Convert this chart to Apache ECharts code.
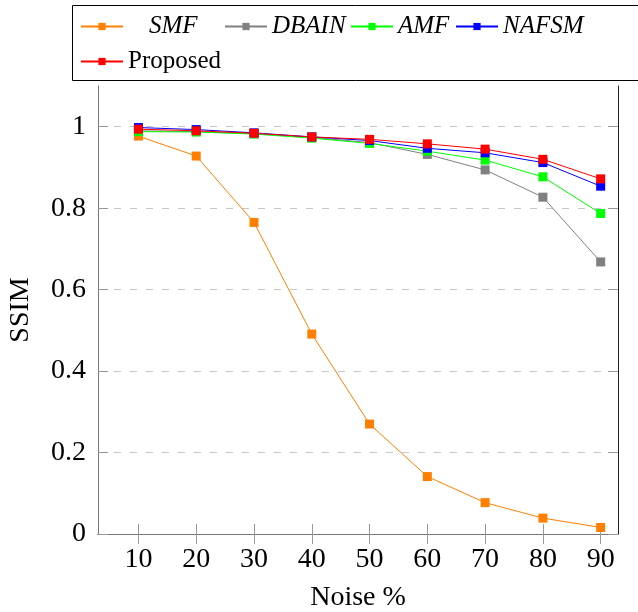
<!DOCTYPE html>
<html>
<head>
<meta charset="utf-8">
<script src="https://cdn.jsdelivr.net/npm/echarts@6/dist/echarts.min.js"></script>
<style>
  html, body { margin: 0; padding: 0; background: #fff; }
  #chart { width: 638px; height: 612px; }
</style>
</head>
<body>
<div id="chart"></div>
<script>
    // noise levels (%) and SSIM for each filter
    var noise = [10, 20, 30, 40, 50, 60, 70, 80, 90];
    var yTicks = [0, 0.2, 0.4, 0.6, 0.8, 1];

    var smf = [0.977, 0.928, 0.765, 0.491, 0.270, 0.141, 0.077, 0.039, 0.016];
    var dbain = [0.990, 0.988, 0.983, 0.974, 0.961, 0.932, 0.894, 0.827, 0.668];
    var amf = [0.988, 0.987, 0.982, 0.972, 0.959, 0.940, 0.918, 0.877, 0.787];
    var nafsm = [0.998, 0.993, 0.985, 0.975, 0.966, 0.947, 0.936, 0.912, 0.854];
    var proposed = [0.994, 0.990, 0.984, 0.975, 0.969, 0.958, 0.945, 0.920, 0.872];

    var font = 'Liberation Serif';

    function pairs(vals) {
        return vals.map(function (v, i) { return [noise[i], v]; });
    }

    function makeSeries(name, vals, color) {
        return {
            name: name,
            type: 'line',
            data: pairs(vals),
            symbol: 'rect',
            symbolSize: 9,
            lineStyle: { color: color, width: 1 },
            itemStyle: { color: color },
            emphasis: { disabled: true },
            animation: false
        };
    }

    function legendItem(name, left, top, italic, pad) {
        return {
            data: [name],
            left: left,
            top: top,
            padding: 0,
            itemWidth: 42,
            itemHeight: 9,
            selectedMode: false,
            textStyle: {
                fontFamily: font,
                fontSize: 25,
                fontStyle: italic ? 'italic' : 'normal',
                color: '#000',
                padding: [0, 0, 0, pad || 0]
            }
        };
    }

    var chart = echarts.init(document.getElementById('chart'));

    var option = {
        animation: false,
        backgroundColor: '#fff',
        grid: {
            left: 98,
            right: 20,
            top: 86,
            bottom: 78,
            outerBoundsMode: 'none'
        },
        graphic: [
            {
                type: 'rect',
                shape: { x: 72.5, y: 5.5, width: 600, height: 75 },
                style: { fill: 'none', stroke: '#000', lineWidth: 1 }
            }
        ],
        legend: [
            legendItem('SMF', 80, 14, true, 21),
            legendItem('DBAIN', 224, 14, true),
            legendItem('AMF', 350, 14, true),
            legendItem('NAFSM', 455, 14, true),
            legendItem('Proposed', 80, 49, false)
        ],
        xAxis: [
            {
                type: 'value',
                min: 3,
                max: 93,
                name: 'Noise %',
                nameLocation: 'middle',
                nameGap: 50,
                nameTextStyle: { fontFamily: font, fontSize: 28, color: '#000' },
                axisLine: { show: true, lineStyle: { color: '#333' } },
                axisTick: { inside: true, length: 10, customValues: noise, lineStyle: { color: '#999' } },
                axisLabel: { customValues: noise, fontFamily: font, fontSize: 28, color: '#000', margin: 12 },
                splitLine: { show: false }
            },
            {
                type: 'value',
                position: 'top',
                min: 3,
                max: 93,
                axisLine: { show: true, lineStyle: { color: '#777' } },
                axisTick: { inside: true, length: 10, customValues: noise, lineStyle: { color: '#999' } },
                axisLabel: { show: false },
                splitLine: { show: false }
            }
        ],
        yAxis: [
            {
                type: 'value',
                min: 0,
                max: 1.1,
                name: 'SSIM',
                nameLocation: 'middle',
                nameGap: 63,
                nameTextStyle: { fontFamily: font, fontSize: 28, color: '#000' },
                axisLine: { show: true, lineStyle: { color: '#777' } },
                axisTick: { inside: true, length: 10, customValues: yTicks, lineStyle: { color: '#999' } },
                axisLabel: { customValues: yTicks, fontFamily: font, fontSize: 28, color: '#000', margin: 12 },
                splitLine: {
                    show: true,
                    lineStyle: { color: '#c8c8c8', type: [7, 9], width: 1 }
                }
            },
            {
                type: 'value',
                position: 'right',
                min: 0,
                max: 1.1,
                axisLine: { show: true, lineStyle: { color: '#222' } },
                axisTick: { inside: true, length: 10, customValues: yTicks, lineStyle: { color: '#999' } },
                axisLabel: { show: false },
                splitLine: { show: false }
            }
        ],
        series: [
            makeSeries('SMF', smf, '#ff8000'),
            makeSeries('DBAIN', dbain, '#808080'),
            makeSeries('AMF', amf, '#00ff00'),
            makeSeries('NAFSM', nafsm, '#0000ff'),
            makeSeries('Proposed', proposed, '#ff0000')
        ]
    };

    chart.setOption(option);
</script>
</body>
</html>
